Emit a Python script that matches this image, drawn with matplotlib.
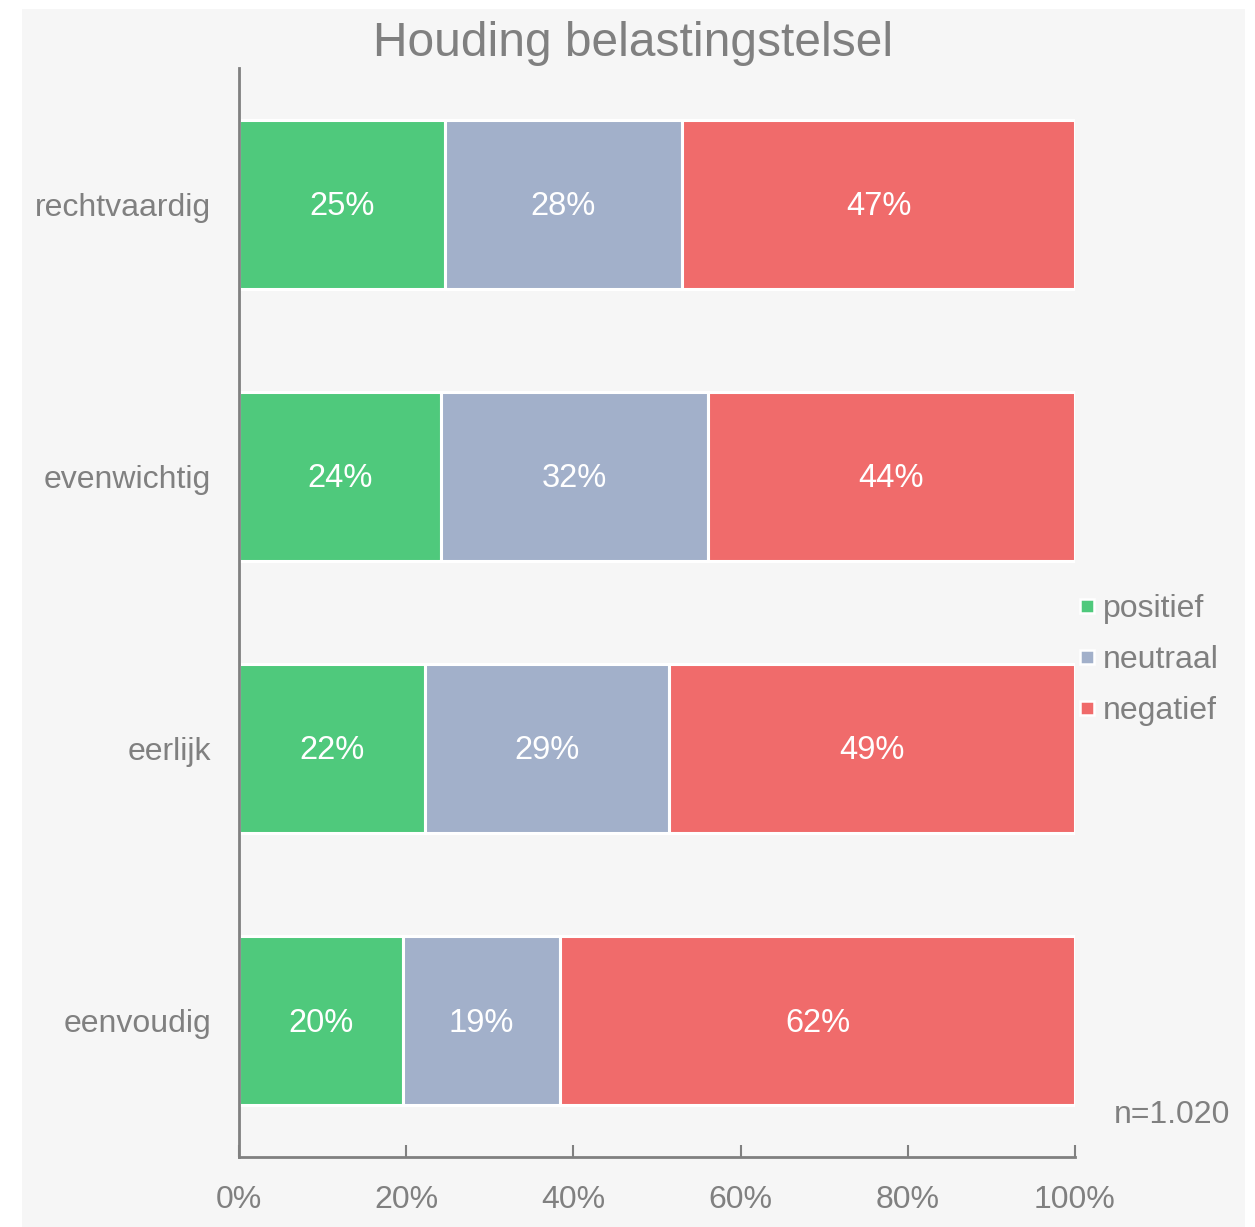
import numpy as np
import matplotlib
matplotlib.use("Agg")
import matplotlib.pyplot as plt
from matplotlib.lines import Line2D
from matplotlib.patches import Rectangle

plt.rcParams['font.family'] = ['Liberation Sans', 'DejaVu Sans']

# data (percentages)
categories = ["rechtvaardig", "evenwichtig", "eerlijk", "eenvoudig"]
positief = [24.6, 24.2, 22.2, 19.6]
neutraal = [28.4, 31.9, 29.2, 18.8]
negatief = [47.0, 43.9, 48.6, 61.6]
series_names = ["positief", "neutraal", "negatief"]
colors = ["#4fc97c", "#a2b0ca", "#f06b6b"]
xticks = [0, 20, 40, 60, 80, 100]
xtick_labels = ["0%", "20%", "40%", "60%", "80%", "100%"]

grey = "#808080"
fig = plt.figure(figsize=(12.55, 12.27), dpi=100, facecolor="white")
# light grey panel
fig.patches.append(Rectangle((22 / 1255, 0), 1223 / 1255, 1 - 9 / 1227,
                             transform=fig.transFigure, facecolor="#f6f6f6",
                             edgecolor="none", zorder=-10))
ax = fig.add_axes([239 / 1255, 1 - 1157 / 1227, 836 / 1255, 1089 / 1227])
ax.set_facecolor("none")

y = np.arange(len(categories))
left = np.zeros(len(categories))
for vals, name, col in zip([positief, neutraal, negatief], series_names, colors):
    vals = np.array(vals)
    ax.barh(y, vals, left=left, height=0.62, color=col,
            edgecolor="white", linewidth=2.2, label=name)
    for yi, l, v in zip(y, left, vals):
        ax.text(l + v / 2, yi + 0.008, f"{int(round(v))}%", ha="center",
                va="center", color="white", fontsize=23.5)
    left += vals

ax.set_xlim(0, 100)
ax.set_ylim(3.5, -0.5)
ax.set_yticks(y)
ax.set_yticklabels(categories, fontsize=23, color=grey)
ax.tick_params(axis="y", length=0, pad=20)
ax.set_xticks(xticks)
ax.set_xticklabels(xtick_labels, fontsize=23, color=grey)
ax.tick_params(axis="x", direction="in", length=9, width=1.5, color=grey, pad=20)
for s in ["top", "right"]:
    ax.spines[s].set_visible(False)
for s in ["left", "bottom"]:
    ax.spines[s].set_color(grey)
    ax.spines[s].set_linewidth(2)

fig.text(633 / 1255, 1 - 44 / 1227, "Houding belastingstelsel", ha="center",
         va="center", fontsize=34.5, color=grey)

handles = [Line2D([], [], marker="s", linestyle="none", markersize=10.5,
                  markerfacecolor=c, markeredgecolor="white", markeredgewidth=1.8)
           for c in colors]
leg = ax.legend(handles, series_names, loc="center left",
                bbox_to_anchor=(0.988, 1 - (660 - 68) / 1089), frameon=False,
                fontsize=23, handlelength=0.55, handletextpad=0.25,
                labelspacing=0.66, borderaxespad=0.0)
for t in leg.get_texts():
    t.set_color(grey)

fig.text(1230 / 1255, 1 - 1115 / 1227, "n=1.020", ha="right", va="center",
         fontsize=23, color=grey)

fig.savefig("out.png", dpi=100, facecolor="white")
